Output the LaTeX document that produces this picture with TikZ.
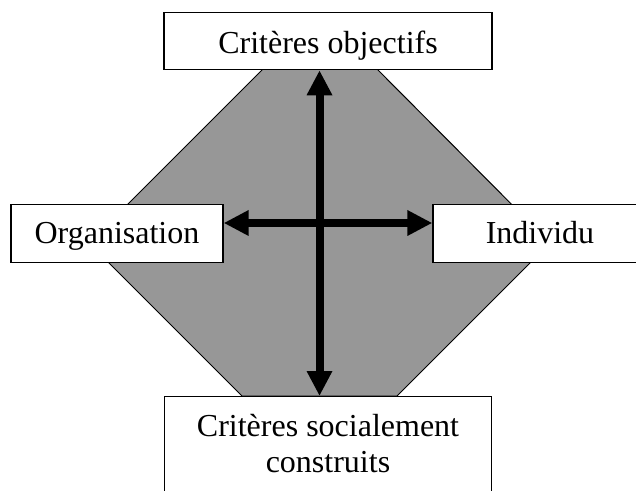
\documentclass[tikz,border=0pt]{standalone}
\usepackage{fontspec}
\setmainfont{Liberation Serif}
\usetikzlibrary{arrows.meta}
\definecolor{octgray}{RGB}{151,151,151}
\begin{document}
\begin{tikzpicture}[x=0.5pt,y=-0.5pt,
  box/.style={draw=black, fill=white, line width=0.65pt, inner sep=0pt,
    font=\fontsize{16}{18}\selectfont},
  axis/.style={line width=4pt,
    {Triangle[length=12.5pt,width=12pt]}-{Triangle[length=12.5pt,width=12pt]}},
  zone/.style={fill=octgray, draw=black, line width=0.5pt}]
\useasboundingbox (0,0) rectangle (636,491);
\clip (0,0) rectangle (636,491);
\fill[white] (0,0) rectangle (636,491);
\draw[zone] (263,69) -- (377,69) -- (550,243) -- (397,396) -- (242,396) -- (89,243) -- cycle;
\node[box, anchor=north, minimum width=164pt, text height=20.5pt, text depth=8pt]
  (top) at (328,12) {Critères objectifs};
\node[box, anchor=north, minimum width=106pt, text height=19.5pt, text depth=9.5pt]
  (left) at (117,204) {Organisation};
\node[box, anchor=north, minimum width=107pt, text height=19.5pt, text depth=9.5pt]
  (right) at (540,204) {Individu};
\node[box, anchor=north, minimum width=163.5pt, text height=20pt, text depth=48pt]
  (bot) at (328,396) {\begin{tabular}[t]{@{}c@{}}Critères socialement\\construits\end{tabular}};
\coordinate (c) at (319.5,223);
\draw[axis] (top.south -| c) -- (bot.north -| c);
\draw[axis] (left.east |- c) -- (right.west |- c);
\end{tikzpicture}
\end{document}
